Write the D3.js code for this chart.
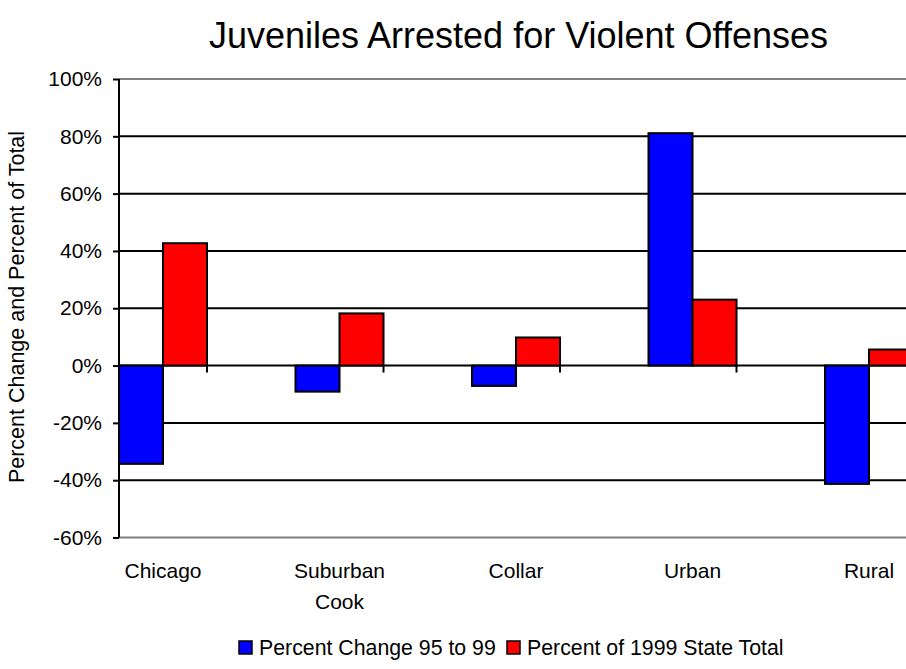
<!DOCTYPE html>
<html>
<head>
<meta charset="utf-8">
<script src="https://cdn.jsdelivr.net/npm/d3@7"></script>
<style>
  html, body { margin: 0; padding: 0; background: #fff; }
  svg { display: block; font-family: "Liberation Sans", Arial, sans-serif; }
</style>
</head>
<body>
<svg id="chart" width="906" height="669"></svg>
<script>
// Regions of Illinois and their juvenile violent-offense arrest figures (%)
const categories = ["Chicago", "Suburban Cook", "Collar", "Urban", "Rural"];
const percentChange = [-34.3, -9.1, -7.1, 81.1, -41.3];
const percentOfTotal = [42.7, 18.2, 9.8, 23.0, 5.6];
const seriesNames = ["Percent Change 95 to 99", "Percent of 1999 State Total"];
const seriesColors = ["#0000ff", "#ff0000"];
const yTicks = [-60, -40, -20, 0, 20, 40, 60, 80, 100];

const svg = d3.select("#chart");
const W = 906, H = 669;
const plot = { left: 119, top: 79, bottom: 537.5, right: W };
const fontFamily = "'Liberation Sans', Arial, sans-serif";

const y = d3.scaleLinear().domain([-60, 100]).range([plot.bottom, plot.top]);

// Category bands: the plot area runs past the right edge of the canvas
const bandStep = 176.5;
const x = d3.scaleBand()
  .domain(categories)
  .range([163 - bandStep / 2, 163 - bandStep / 2 + bandStep * categories.length])
  .paddingInner(0).paddingOuter(0);
const barW = 44;
const center = c => x(c) + x.bandwidth() / 2;

svg.append("defs").append("clipPath").attr("id", "plotClip")
  .append("rect")
  .attr("x", plot.left).attr("y", 0)
  .attr("width", W - plot.left).attr("height", H);

// Title
svg.append("text")
  .attr("x", 518.5).attr("y", 48)
  .attr("text-anchor", "middle")
  .attr("font-size", 36)
  .text("Juveniles Arrested for Violent Offenses");

// Horizontal gridlines
svg.append("g").selectAll("line").data(yTicks).join("line")
  .attr("x1", plot.left).attr("x2", plot.right)
  .attr("y1", d => y(d)).attr("y2", d => y(d))
  .attr("stroke", d => (d === 100 || d === -60) ? "#808080" : "#000")
  .attr("stroke-width", 2);

// Y axis
const yAxis = d3.axisLeft(y).tickValues(yTicks).tickSize(6).tickPadding(11)
  .tickFormat(d => d + "%");
const gy = svg.append("g").attr("transform", `translate(${plot.left},0)`).call(yAxis);
gy.select(".domain").remove();
gy.selectAll(".tick line").attr("stroke", "#000").attr("stroke-width", 2);
gy.selectAll(".tick text").attr("font-size", 21).attr("fill", "#000")
  .attr("font-family", fontFamily);
gy.append("line")
  .attr("x1", 0).attr("x2", 0)
  .attr("y1", y(100)).attr("y2", y(-60))
  .attr("stroke", "#000").attr("stroke-width", 2);

// Bars
const bars = svg.append("g").attr("clip-path", "url(#plotClip)");
const rows = categories.map((c, i) => ({ c, vals: [percentChange[i], percentOfTotal[i]] }));
rows.forEach(r => {
  r.vals.forEach((v, s) => {
    bars.append("rect")
      .attr("x", center(r.c) - barW + s * barW)
      .attr("y", y(Math.max(0, v)))
      .attr("width", barW)
      .attr("height", Math.abs(y(v) - y(0)))
      .attr("fill", seriesColors[s])
      .attr("stroke", "#000")
      .attr("stroke-width", 2);
  });
});

// Category tick marks below the zero line
bars.selectAll("line.xtick").data(categories).join("line")
  .attr("class", "xtick")
  .attr("x1", d => center(d) + barW).attr("x2", d => center(d) + barW)
  .attr("y1", y(0)).attr("y2", y(0) + 7)
  .attr("stroke", "#000").attr("stroke-width", 2);

// Category labels (wrapped onto two lines where needed)
const catLabels = svg.append("g");
categories.forEach(c => {
  const t = catLabels.append("text")
    .attr("text-anchor", "middle")
    .attr("font-size", 21)
    .attr("x", center(c)).attr("y", 578);
  c.split(" ").forEach((w, i) => {
    t.append("tspan").attr("x", center(c)).attr("dy", i === 0 ? 0 : 31).text(w);
  });
});

// Y axis title
svg.append("text")
  .attr("transform", `translate(24,307) rotate(-90)`)
  .attr("text-anchor", "middle")
  .attr("font-size", 21.5)
  .text("Percent Change and Percent of Total");

// Legend
const legend = svg.append("g");
const legendX = [239, 507];
seriesNames.forEach((n, i) => {
  legend.append("rect")
    .attr("x", legendX[i]).attr("y", 641)
    .attr("width", 13).attr("height", 13)
    .attr("fill", seriesColors[i]).attr("stroke", "#000").attr("stroke-width", 1.5);
  legend.append("text")
    .attr("x", legendX[i] + 20).attr("y", 655)
    .attr("font-size", 21.3)
    .text(n);
});
</script>
</body>
</html>
